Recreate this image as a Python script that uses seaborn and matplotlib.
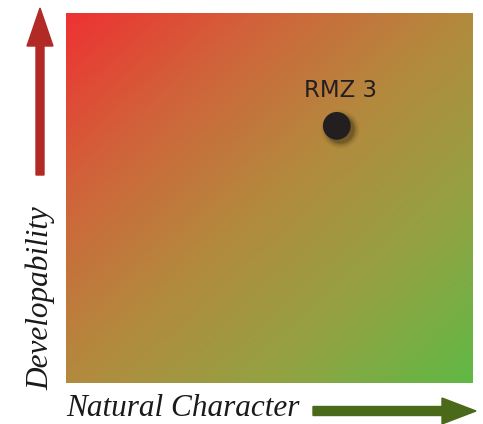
"""Developability vs natural character matrix with a single RMZ point."""

import numpy as np
import pandas as pd
import matplotlib
matplotlib.use("Agg")
import matplotlib.pyplot as plt
import matplotlib.transforms as mtransforms
from matplotlib.colors import LinearSegmentedColormap
import seaborn as sns

# --- data ---
zones = ["RMZ 3"]
natural_character = [6.67]   # 0..10 scale
developability = [6.95]      # 0..10 scale

gradient_stops = ["#ee3232", "#d0643a", "#b38a3e", "#93a242", "#60b946"]

df = pd.DataFrame({"zone": zones, "nat": natural_character, "dev": developability})

sns.set_theme(style="white")

fig = plt.figure(figsize=(4.83, 4.24), dpi=100)
ax = fig.add_axes([0.1366, 0.0967, 0.8406, 0.8726])

# diagonal red -> green background
cmap = LinearSegmentedColormap.from_list("rg", gradient_stops)
n = 300
gx, gy = np.meshgrid(np.linspace(0, 1, n), np.linspace(1, 0, n))
diag = (gx + (1 - gy)) / 2
ax.imshow(diag, cmap=cmap, extent=(0, 10, 0, 10), origin="upper",
          aspect="auto", interpolation="bilinear", zorder=0)

# soft drop shadow under the point
shadow_tr = mtransforms.offset_copy(ax.transData, fig=fig, x=2.5, y=-2.5, units="points")
for s, a in [(760, 0.04), (640, 0.06), (540, 0.08), (460, 0.10), (400, 0.12)]:
    ax.scatter(df["nat"], df["dev"], s=s, color="black", alpha=a,
               linewidths=0, transform=shadow_tr, zorder=1)

sns.scatterplot(data=df, x="nat", y="dev", s=400, color="#231f20",
                edgecolor="none", ax=ax, zorder=2, legend=False)

for _, r in df.iterrows():
    ax.annotate(r["zone"], (r["nat"], r["dev"]), xytext=(2.5, 21),
                textcoords="offset points", ha="center", va="baseline",
                fontsize=16.5, color="#231f20", family="DejaVu Sans")

ax.set_xlim(0, 10)
ax.set_ylim(0, 10)
ax.set_xticks([])
ax.set_yticks([])
ax.set_xlabel("")
ax.set_ylabel("")
for sp in ax.spines.values():
    sp.set_visible(False)

# axis arrows and script labels (figure pixel fractions)
W, H = 483, 424
fig.patches.append(matplotlib.patches.FancyArrow(
    40 / W, (H - 175) / H, 0, (175 - 8) / H, width=8 / W,
    head_width=26 / W, head_length=38 / H, length_includes_head=True,
    color="#b22a25", transform=fig.transFigure, figure=fig))
fig.patches.append(matplotlib.patches.FancyArrow(
    313 / W, (H - 411) / H, (476 - 313) / W, 0, width=9 / H,
    head_width=26 / H, head_length=34 / W, length_includes_head=True,
    color="#4a6a1a", transform=fig.transFigure, figure=fig))

fig.text(66 / W, (H - 409) / H, "Natural Character", ha="left", va="center",
         fontsize=22.5, style="italic", family="Liberation Serif", color="#1a1a1a")
fig.text(41 / W, (H - 298) / H, "Developability", ha="center", va="center",
         rotation=90, fontsize=22.5, style="italic", family="Liberation Serif",
         color="#1a1a1a")

fig.savefig("out.png", dpi=100)
plt.close(fig)
